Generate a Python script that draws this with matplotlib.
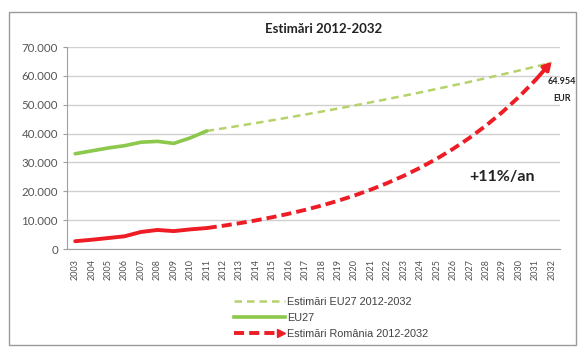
import matplotlib.pyplot as plt
from matplotlib.lines import Line2D
from matplotlib.patches import Rectangle
from matplotlib.ticker import FuncFormatter
from matplotlib.legend_handler import HandlerBase

years = [str(y) for y in range(2003, 2033)]

# istoric 2003-2011
eu27 = [33000, 34000, 35000, 35800, 37000, 37300, 36600, 38500, 40900]
romania = [2700, 3200, 3800, 4400, 5900, 6600, 6200, 6800, 7257]

# estimari 2011-2032 (pornesc din 2011 ca sa se lege de istoric)
eu27_est = [40900, 41800, 42720, 43660, 44620, 45600, 46600, 47630, 48680, 49750, 50840,
            51960, 53100, 54270, 55470, 56690, 57930, 59210, 60510, 61840, 63200, 64590]
romania_est = [7257, 8055, 8941, 9925, 11017, 12229, 13574, 15067, 16724, 18564, 20606,
               22873, 25389, 28181, 31281, 34722, 38542, 42782, 47488, 52711, 58509, 64954]

green = "#8cc84b"
green_light = "#b5d36a"
red = "#ee1c25"
red_dash = (0, (2.6, 1.3))


class ArrowHandler(HandlerBase):
    # linie rosie punctata cu varf de sageata la capat, ca in legenda originala
    def create_artists(self, legend, orig_handle, xdescent, ydescent, width, height,
                       fontsize, trans):
        y = height / 2 - ydescent
        x0, x1 = -xdescent, width - xdescent
        line = Line2D([x0, x1 - 5], [y, y], color=red, lw=2.8, ls=red_dash, transform=trans)
        head = Line2D([x1 - 3], [y], marker=">", color=red, ms=5.5, lw=0, transform=trans)
        return [line, head]


plt.rcParams['font.family'] = ['Lato', 'DejaVu Sans']

fig = plt.figure(figsize=(5.82, 3.49), dpi=100)
fig.add_artist(Rectangle((9 / 582, 1 - 345 / 349), 567 / 582, 333 / 349,
                         transform=fig.transFigure, fill=False, ec="#9a9a9a", lw=1))
ax = fig.add_axes([67 / 582, 1 - 249 / 349, 493 / 582, 202 / 349])

x_hist = list(range(len(eu27)))
x_est = list(range(len(eu27) - 1, len(years)))

ax.plot(x_est, eu27_est, color=green_light, lw=1.8, ls=(0, (3, 2)), zorder=3)
ax.plot(x_hist, eu27, color=green, lw=2.6, solid_capstyle="round", zorder=4)
ax.plot(x_hist, romania, color=red, lw=2.8, solid_capstyle="round", zorder=4)
ax.plot(x_est[:-1], romania_est[:-1], color=red, lw=2.8, ls=red_dash, zorder=4)
ax.annotate("", xy=(x_est[-1], romania_est[-1]), xytext=(x_est[-2], romania_est[-2]),
            arrowprops=dict(arrowstyle="-|>,head_length=0.45,head_width=0.25",
                            color=red, lw=2.8, shrinkA=0, shrinkB=0), zorder=5)

ax.set_xlim(-0.5, len(years) - 0.5)
ax.set_ylim(0, 70000)
ax.set_xticks(range(len(years)))
ax.set_xticklabels(years, rotation=90, fontsize=6.5, color="#505050")
ax.set_yticks(range(0, 70001, 10000))
ax.yaxis.set_major_formatter(FuncFormatter(lambda v, p: f"{int(v):,}".replace(",", ".")))
ax.tick_params(axis="y", labelsize=8.3, colors="#555555", length=3, color="#a0a0a0")
ax.tick_params(axis="x", length=0, pad=7)
ax.grid(axis="y", color="#d0d0d0", lw=1)
ax.set_axisbelow(True)
for s in ["top", "right"]:
    ax.spines[s].set_visible(False)
ax.spines["left"].set_color("#a0a0a0")
ax.spines["bottom"].set_color("#a0a0a0")

ax.set_title("Estimări 2012-2032", fontsize=9.5, fontweight="bold", color="#222222",
             pad=10, x=0.52)

ax.text(29.6, 58200, "64.954", fontsize=6.5, fontweight="bold",
        ha="center", va="center", color="#222222", clip_on=False)
ax.text(29.65, 52300, "EUR", fontsize=6.5, fontweight="bold",
        ha="center", va="center", color="#222222", clip_on=False)
ax.text(24.0, 25000, "+11%/an", fontsize=11.5, fontweight="bold", color="#222222",
        va="center")

handles = [
    Line2D([], [], color=green_light, lw=1.8, ls=(0, (3, 2))),
    Line2D([], [], color=green, lw=2.6),
    Line2D([], [], color=red),
]
labels = ["Estimări EU27 2012-2032", "EU27", "Estimări România 2012-2032"]
fig.legend(handles, labels, loc="upper left", bbox_to_anchor=(224 / 582, 1 - 287 / 349),
           frameon=False, handlelength=4.7, handletextpad=0.2, labelspacing=0.55,
           labelcolor="#404040", handler_map={handles[2]: ArrowHandler()},
           prop={"family": "Liberation Sans", "size": 7.8})

fig.savefig("out.png", dpi=100)
